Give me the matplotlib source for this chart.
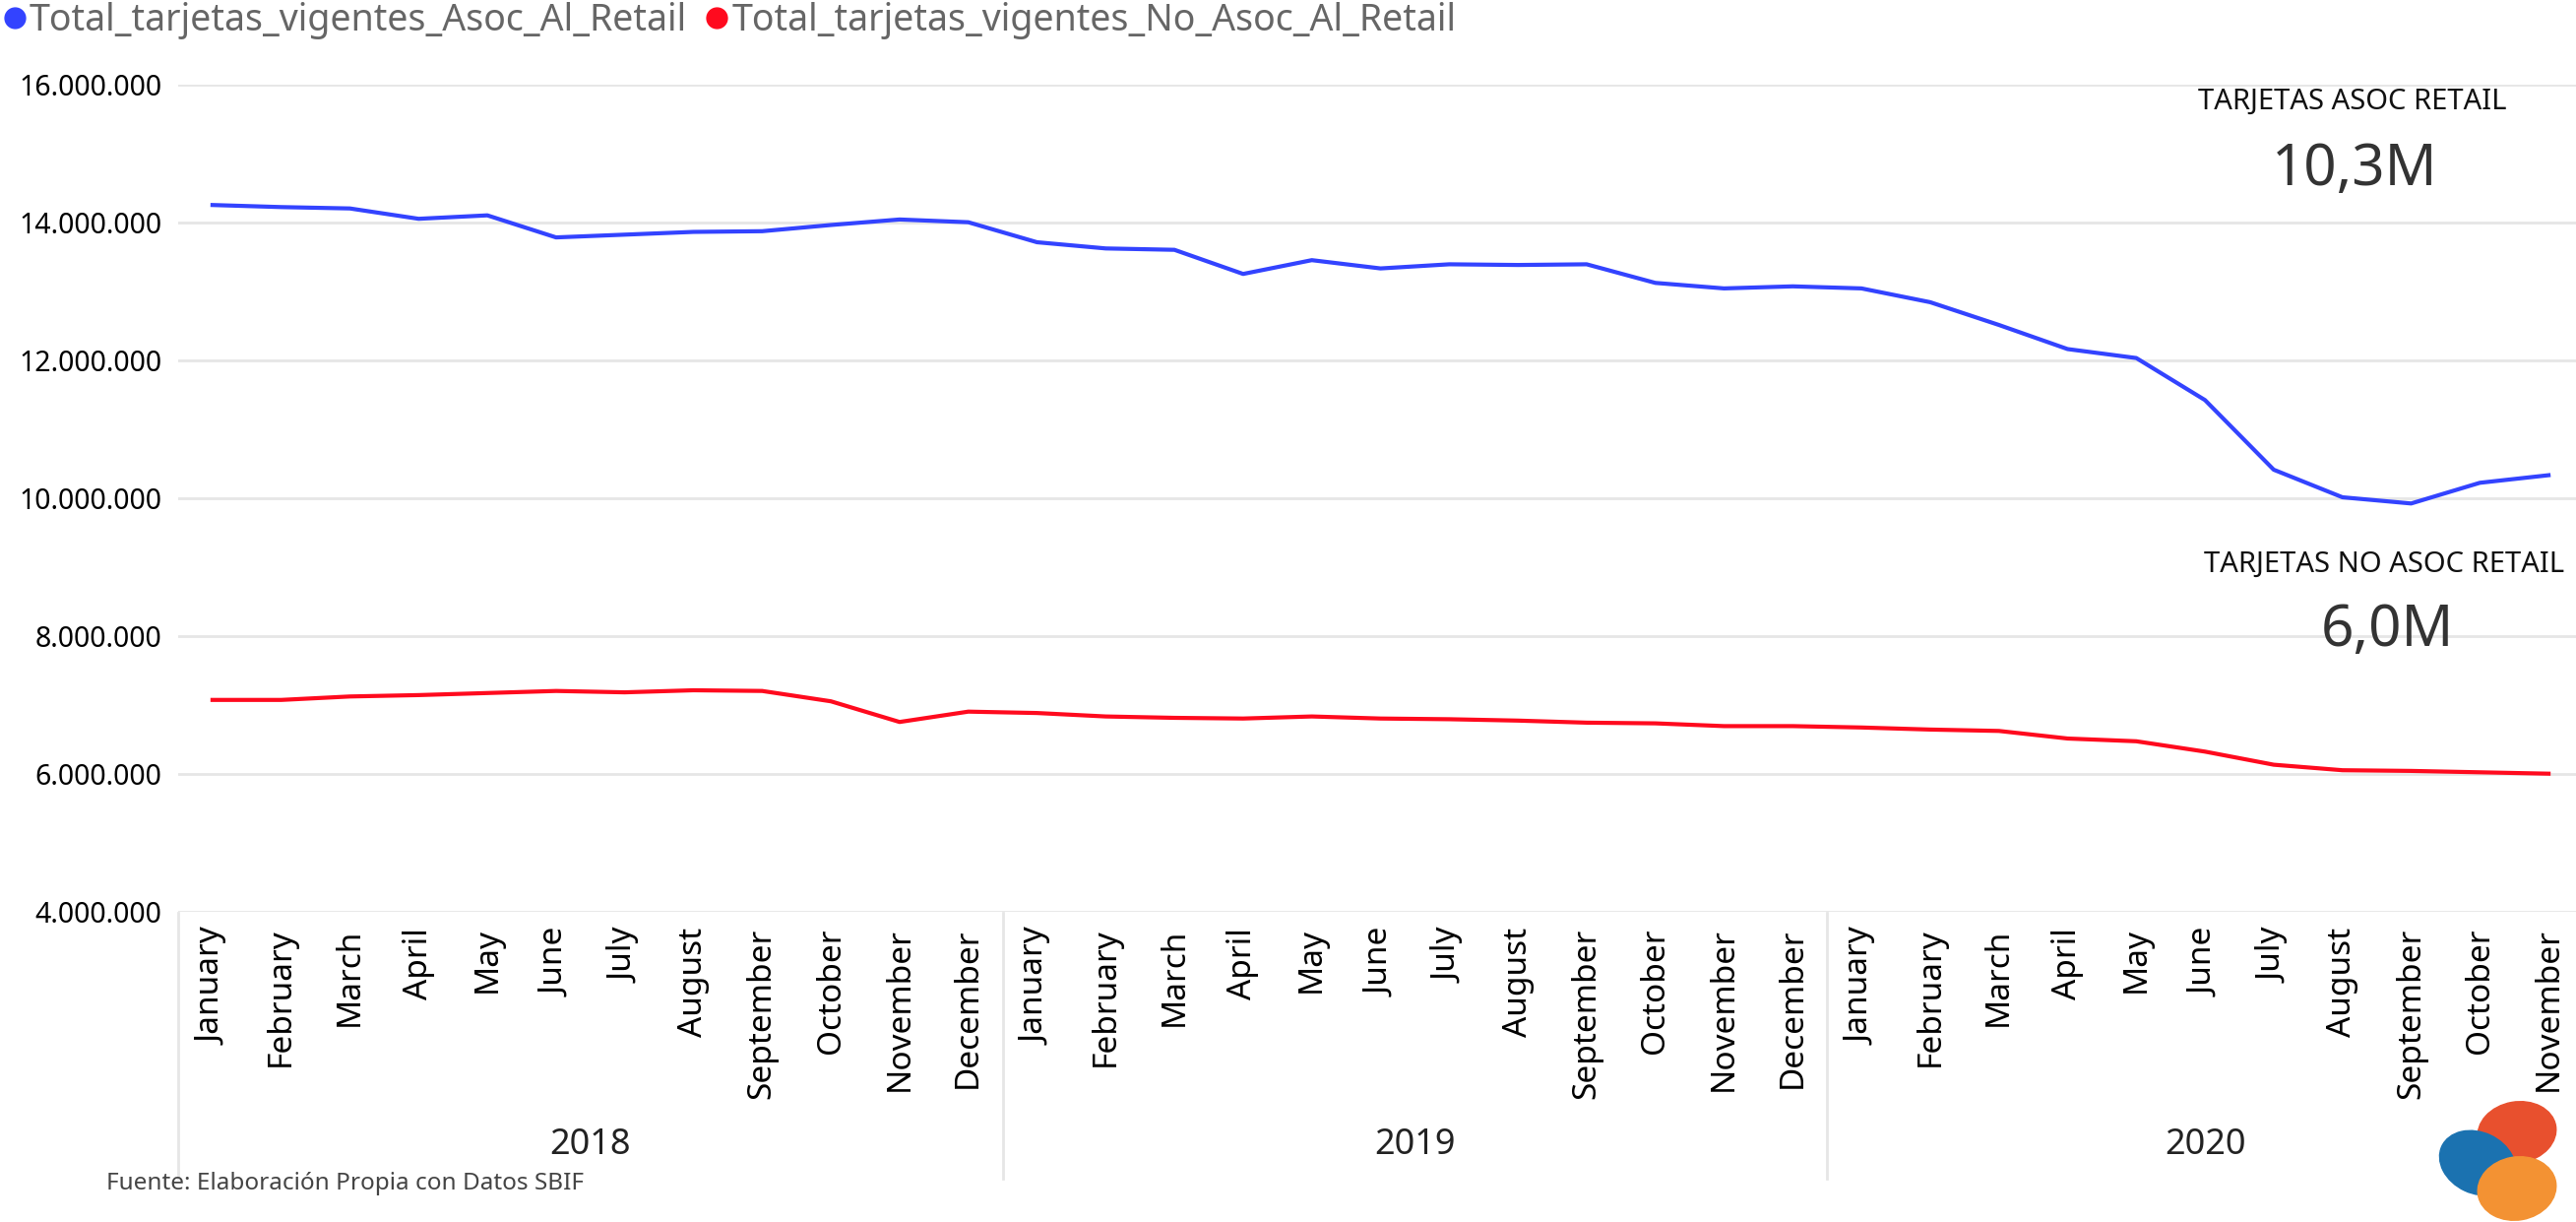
import matplotlib
matplotlib.use("Agg")
import matplotlib.pyplot as plt
import matplotlib.transforms as mtransforms
from matplotlib import font_manager
from matplotlib.lines import Line2D
from matplotlib.patches import Ellipse

plt.rcParams['font.family'] = ['Noto Sans', 'DejaVu Sans']

W, H = 2617, 1241

years = ['2018', '2019', '2020']
months = ['January', 'February', 'March', 'April', 'May', 'June', 'July',
          'August', 'September', 'October', 'November', 'December']
month_labels = months + months + months[:11]

# millions of cards, Jan 2018 .. Nov 2020
asoc_retail = [14.25, 14.22, 14.20, 14.05, 14.10, 13.78, 13.82, 13.86, 13.87, 13.96, 14.04, 14.00,
               13.71, 13.62, 13.60, 13.25, 13.45, 13.33, 13.39, 13.38, 13.39, 13.12, 13.04, 13.07,
               13.04, 12.84, 12.51, 12.16, 12.03, 11.42, 10.41, 10.01, 9.92, 10.22, 10.33]
no_asoc_retail = [7.07, 7.07, 7.12, 7.14, 7.17, 7.20, 7.18, 7.21, 7.20, 7.05, 6.75, 6.90,
                  6.88, 6.83, 6.81, 6.80, 6.83, 6.80, 6.79, 6.77, 6.74, 6.73, 6.69, 6.69,
                  6.67, 6.64, 6.62, 6.51, 6.47, 6.32, 6.13, 6.05, 6.04, 6.02, 6.00]

yticks = [4e6, 6e6, 8e6, 10e6, 12e6, 14e6, 16e6]

blue = '#3343FF'
red = '#FF0A1E'

# condensed face for the big card numbers, if there is one
try:
    font_manager.findfont('Liberation Sans Narrow', fallback_to_default=False)
    kpi_font, kpi_size = 'Liberation Sans Narrow', 50
except ValueError:
    kpi_font, kpi_size = 'Noto Sans', 42


def fx(x):
    return x / W


def fy(y):
    return 1 - y / H


fig = plt.figure(figsize=(W / 100, H / 100), dpi=100)
ax = fig.add_axes([fx(181), fy(925.7), 1 - fx(181), fy(85.7) - fy(925.7)])

x = list(range(len(month_labels)))
ax.plot(x, [v * 1e6 for v in asoc_retail], color=blue, lw=3, solid_joinstyle='round')
ax.plot(x, [v * 1e6 for v in no_asoc_retail], color=red, lw=3, solid_joinstyle='round')

ax.set_xlim(-0.5, -0.5 + (W - 181) / 69.8)
ax.set_ylim(4e6, 16e6)
ax.set_yticks(yticks)
ax.set_yticklabels([f"{v:,.0f}".replace(',', '.') for v in yticks], fontsize=20.5)
ax.set_xticks(x)
ax.set_xticklabels(month_labels, rotation=90, fontsize=24, va='top', ha='center')
ax.tick_params(length=0)
ax.tick_params(axis='y', pad=12)
ax.tick_params(axis='x', pad=12)
ax.grid(axis='y', color='#E6E6E6', lw=2)
ax.set_axisbelow(True)
for s in ax.spines.values():
    s.set_visible(False)

# year groups under the month labels
trans = mtransforms.blended_transform_factory(ax.transData, fig.transFigure)
for i, yr in enumerate(years):
    start = i * 12 - 0.5
    n = len(month_labels[i * 12:(i + 1) * 12])
    fig.text(start + n / 2, fy(1163), yr, transform=trans, ha='center', va='center',
             fontsize=26, color='#222222')
    fig.add_artist(Line2D([start, start], [fy(927), fy(1197)], transform=trans,
                          color='#E6E6E6', lw=2))

# legend
handles = [Line2D([], [], marker='o', ls='none', color=blue, markersize=15),
           Line2D([], [], marker='o', ls='none', color=red, markersize=15)]
fig.legend(handles, ['Total_tarjetas_vigentes_Asoc_Al_Retail', 'Total_tarjetas_vigentes_No_Asoc_Al_Retail'],
           loc='upper left', bbox_to_anchor=(fx(0), fy(2)), ncol=2, frameon=False, fontsize=27,
           handletextpad=0.0, columnspacing=0.4, handlelength=0.8, borderaxespad=0, borderpad=0,
           labelcolor='#666666')

# KPI cards
kpi_asoc = f"{asoc_retail[-1]:.1f}M".replace('.', ',')
kpi_no_asoc = f"{no_asoc_retail[-1]:.1f}M".replace('.', ',')
fig.text(fx(2390), fy(103), 'TARJETAS ASOC RETAIL', ha='center', va='center', fontsize=21, color='#111111')
fig.text(fx(2392), fy(172), kpi_asoc, ha='center', va='center', fontsize=kpi_size,
         family=kpi_font, color='#333333')
fig.text(fx(2422), fy(573), 'TARJETAS NO ASOC RETAIL', ha='center', va='center', fontsize=21, color='#111111')
fig.text(fx(2425), fy(641), kpi_no_asoc, ha='center', va='center', fontsize=kpi_size,
         family=kpi_font, color='#333333')

fig.text(fx(108), fy(1202), 'Fuente: Elaboración Propia con Datos SBIF', ha='left', va='center',
         fontsize=17.5, color='#444444')

# logo
ident = mtransforms.IdentityTransform()
for (cx, cy, w, h, ang, col) in [(2557, 1150, 80, 62, 10, '#E8502E'),
                                 (2517, 1181, 80, 62, -25, '#1B72B0'),
                                 (2557, 1207, 80, 64, 10, '#F39233')]:
    fig.patches.append(Ellipse((cx, H - cy), w, h, angle=ang, color=col, transform=ident, figure=fig))

fig.savefig('out.png', dpi=100, facecolor='white')
